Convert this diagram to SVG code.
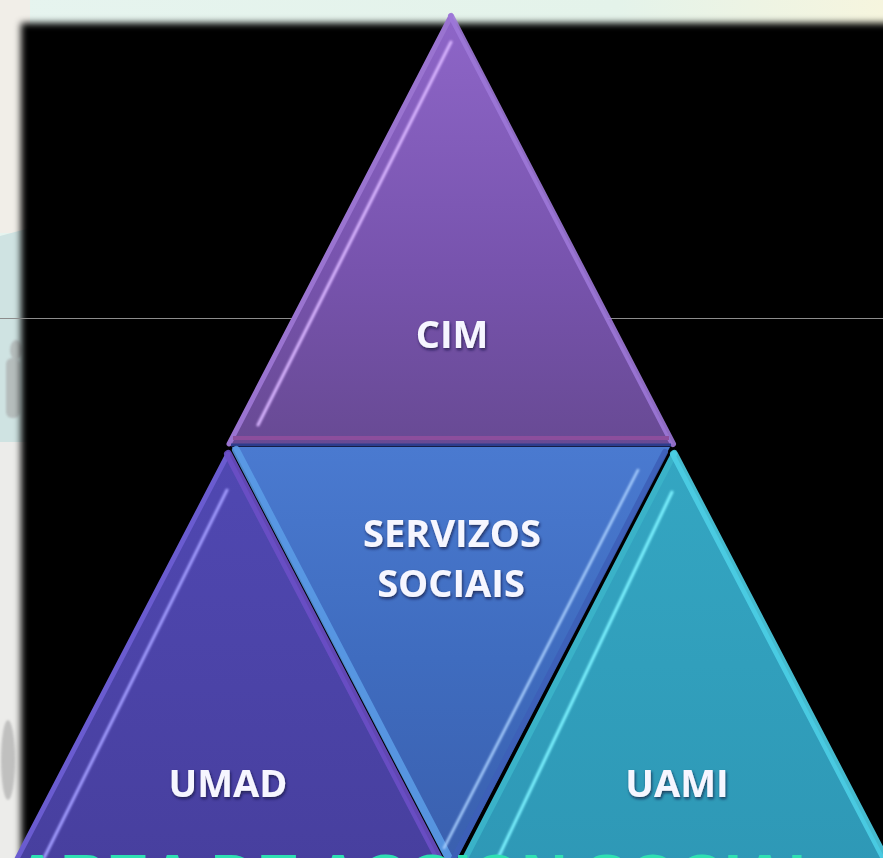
<svg xmlns="http://www.w3.org/2000/svg" width="883" height="858" viewBox="0 0 883 858">
<defs>
<style>
.lbl{font-family:"Open Sans","Liberation Sans",Arial,sans-serif;font-weight:bold;fill:#f6f6ff;text-anchor:middle;filter:url(#sh)}
.hl{fill:none;stroke-linecap:round}
</style>
<filter id="blur" x="-5%" y="-5%" width="110%" height="110%"><feGaussianBlur stdDeviation="3.5"/></filter>
<filter id="soft" x="-10%" y="-10%" width="120%" height="120%"><feGaussianBlur stdDeviation="1.2"/></filter>
<filter id="sh" x="-10%" y="-20%" width="120%" height="140%"><feDropShadow dx="1" dy="2" stdDeviation="1.5" flood-color="#101030" flood-opacity="0.7"/></filter>
<linearGradient id="topStrip" x1="0" y1="0" x2="1" y2="0"><stop offset="0" stop-color="#e6f4ef"/><stop offset="0.7" stop-color="#e4f3ea"/><stop offset="1" stop-color="#f6f5de"/></linearGradient>
<linearGradient id="gCim" x1="0" y1="0" x2="0" y2="1"><stop offset="0" stop-color="#8e66c8"/><stop offset="0.6" stop-color="#7753ad"/><stop offset="1" stop-color="#684a94"/></linearGradient>
<linearGradient id="gSer" x1="0" y1="0" x2="0" y2="1"><stop offset="0" stop-color="#4a7ad0"/><stop offset="0.5" stop-color="#3f6cbf"/><stop offset="1" stop-color="#3a5fae"/></linearGradient>
<linearGradient id="gUmad" x1="0" y1="0" x2="0" y2="1"><stop offset="0" stop-color="#5048b2"/><stop offset="1" stop-color="#473f9e"/></linearGradient>
<linearGradient id="gUami" x1="0" y1="0" x2="0" y2="1"><stop offset="0" stop-color="#34a6c2"/><stop offset="1" stop-color="#2e98b6"/></linearGradient>
</defs>

<!-- background -->
<rect x="0" y="0" width="883" height="858" fill="url(#topStrip)"/>
<rect x="0" y="0" width="30" height="233" fill="#f1eee8"/>
<polygon points="0,236 30,228 30,442 0,442" fill="#cfe3e2"/>
<rect x="0" y="442" width="30" height="416" fill="#ececea"/>
<g fill="#a4a4a4" opacity="0.6" filter="url(#soft)">
<ellipse cx="16" cy="350" rx="6" ry="10"/>
<rect x="6" y="358" width="14" height="60" rx="6"/>
<ellipse cx="8" cy="760" rx="7" ry="40"/>
</g>
<rect x="21" y="23" width="900" height="900" fill="#000" filter="url(#blur)"/>
<line x1="0" y1="318.5" x2="883" y2="318.5" stroke="#8c8c8c" stroke-width="1"/>

<!-- CIM -->
<g id="cim">
<polygon points="451,14 229,444 673,444" fill="url(#gCim)"/>
<polyline class="hl" points="451,16 229,444" stroke="#9a74d0" stroke-width="5"/>
<polyline class="hl" points="451,16 673,444" stroke="#9d78d8" stroke-width="6" opacity="0.9"/>
<polyline class="hl" points="451,42 258,425" stroke="#d8b4ff" stroke-width="3" filter="url(#soft)"/>
<line x1="233" y1="438" x2="669" y2="438" stroke="#8c4e9c" stroke-width="4"/>
<line x1="231" y1="445" x2="671" y2="445" stroke="#2d3c8c" stroke-width="3"/>
<text class="lbl" x="452" y="348" font-size="38">CIM</text>
</g>

<!-- SERVIZOS SOCIAIS (inverted) -->
<g id="servizos">
<polygon points="232,447 670,447 451,870" fill="url(#gSer)"/>
<polyline class="hl" points="236,450 453,866" stroke="#5c9de8" stroke-width="8" opacity="0.85"/>
<polyline class="hl" points="665,452 450,866" stroke="#3d5fb8" stroke-width="6" opacity="0.9"/>
<polyline class="hl" points="638,470 444,848" stroke="#aad0ff" stroke-width="2.5" filter="url(#soft)"/>
<text class="lbl" x="452" y="547" font-size="38">SERVIZOS</text>
<text class="lbl" x="451" y="597" font-size="38">SOCIAIS</text>
</g>

<!-- UMAD -->
<g id="umad">
<polygon points="228,452 8,876 448,876" fill="url(#gUmad)"/>
<polyline class="hl" points="228,454 8,876" stroke="#6a5cd0" stroke-width="5"/>
<polyline class="hl" points="228,454 448,876" stroke="#6b4fc6" stroke-width="8" opacity="0.9"/>
<polyline class="hl" points="227,490 44,858" stroke="#a29cff" stroke-width="3" filter="url(#soft)"/>
<text class="lbl" x="228" y="797" font-size="38">UMAD</text>
</g>

<!-- UAMI -->
<g id="uami">
<polygon points="674,452 456,876 894,876" fill="url(#gUami)"/>
<polyline class="hl" points="674,454 456,876" stroke="#3ab2c8" stroke-width="6"/>
<polyline class="hl" points="674,454 894,876" stroke="#4ccfe6" stroke-width="8" opacity="0.9"/>
<polyline class="hl" points="672,492 498,858" stroke="#7cf2ff" stroke-width="3" filter="url(#soft)"/>
<text class="lbl" x="677" y="797" font-size="38">UAMI</text>
</g>

<!-- cut-off bottom title, as in the reference -->
<text x="14" y="900" font-family="Liberation Sans, Arial, sans-serif" font-weight="bold" font-size="64" fill="#2fe0b2">AREA DE ACCION SOCIAL</text>
</svg>
